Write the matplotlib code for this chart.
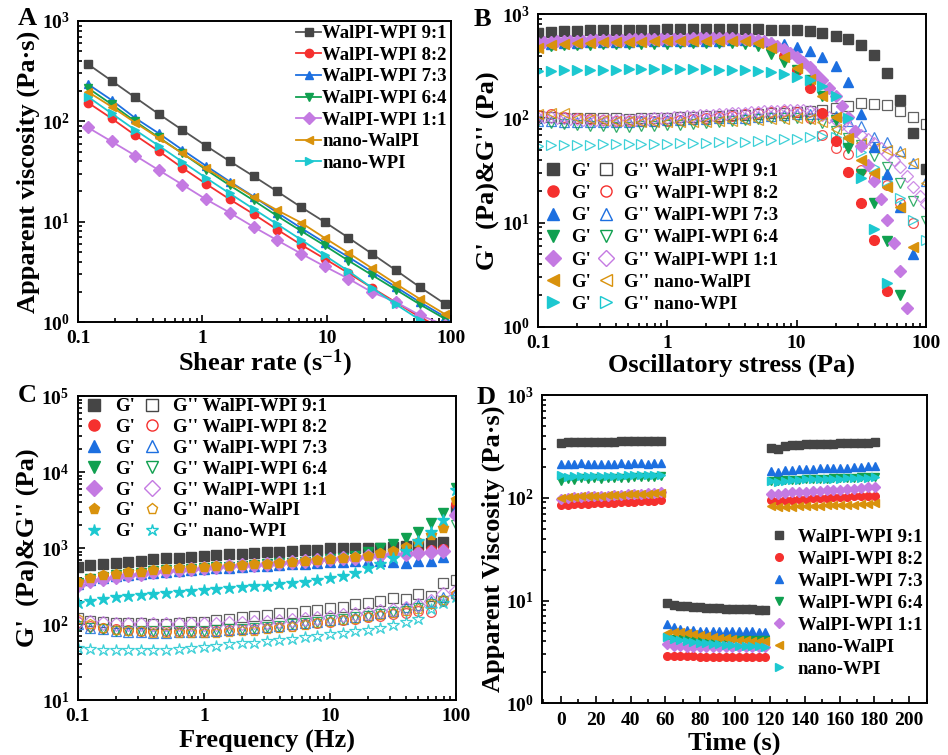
import numpy as np
import matplotlib
matplotlib.use("Agg")
import matplotlib.pyplot as plt
from matplotlib.lines import Line2D
from matplotlib.ticker import MultipleLocator, NullFormatter

plt.rcParams['font.family'] = ['Liberation Serif', 'DejaVu Serif']
plt.rcParams['font.weight'] = 'bold'
plt.rcParams['axes.labelweight'] = 'bold'
plt.rcParams['mathtext.fontset'] = 'custom'
plt.rcParams['mathtext.rm'] = 'Liberation Serif:bold'
plt.rcParams['mathtext.bf'] = 'Liberation Serif:bold'
plt.rcParams['mathtext.it'] = 'Liberation Serif:bold:italic'
plt.rcParams['mathtext.default'] = 'rm'

# ---------------- shared sample info ----------------
samples = ["WalPI-WPI 9:1", "WalPI-WPI 8:2", "WalPI-WPI 7:3", "WalPI-WPI 6:4",
           "WalPI-WPI 1:1", "nano-WalPI", "nano-WPI"]
colors = ["#454545", "#F5302E", "#1C6FE0", "#10A050", "#C47AE2", "#D9920C", "#1CC8D0"]
line_colors = ["#555555", "#F5302E", "#1C6FE0", "#10A050", "#C47AE2", "#D9920C", "#1CC8D0"]
markers_abd = ["s", "o", "^", "v", "D", "<", ">"]
markers_c = ["s", "o", "^", "v", "D", "p", "*"]

# ---------------- A: flow curves ----------------
shear_rate = [0.12, 0.186, 0.288, 0.447, 0.69, 1.07, 1.66, 2.58, 4.0, 6.2, 9.6,
              14.9, 23.0, 36.0, 56.0, 90.0]
visc_91 = [372, 254, 173, 118, 82, 57, 40, 28.4, 20, 14.0, 9.95, 6.94, 4.81, 3.28, 2.23, 1.51]
visc_82 = [154, 107, 72.8, 50.4, 34.4, 23.8, 16.7, 11.9, 8.34, 5.91, 4.28, 3.08, 2.2, 1.57, 1.12, 0.83]
visc_73 = [235, 163, 108, 75.7, 52, 36, 25.1, 17.8, 12.3, 8.67, 6.19, 4.45, 3.18, 2.23, 1.58, 1.12]
visc_64 = [215, 148, 100, 69, 48, 33, 23, 16.3, 11.4, 8.1, 5.8, 4.1, 2.95, 2.1, 1.5, 1.07]
visc_11 = [86.9, 63, 45.6, 32.6, 23.4, 16.7, 12.3, 8.87, 6.53, 4.81, 3.59, 2.71, 1.99, 1.58, 1.17, 0.93]
visc_walpi = [197, 140, 97, 68, 48, 34, 24.5, 17.6, 13, 9.8, 6.9, 4.9, 3.45, 2.4, 1.7, 1.19]
visc_wpi = [176, 120, 82, 57, 39.5, 27.3, 19.1, 13.4, 9.43, 6.63, 4.62, 3.23, 2.2, 1.5, 1.05, 0.85]
visc_all = [visc_91, visc_82, visc_73, visc_64, visc_11, visc_walpi, visc_wpi]

# ---------------- B: amplitude sweep ----------------
stress = [0.1, 0.126, 0.158, 0.2, 0.251, 0.316, 0.398, 0.501, 0.631, 0.794, 1.0, 1.26,
          1.58, 2.0, 2.51, 3.16, 3.98, 5.01, 6.31, 7.94, 10.0, 12.6, 15.8, 20.0, 25.1,
          31.6, 39.8, 50.1, 63.1, 79.4, 100.0]
stress_fine = [0.1, 0.112, 0.126, 0.141, 0.158, 0.178, 0.2, 0.224, 0.251, 0.282, 0.316,
               0.355, 0.398, 0.447, 0.501, 0.562, 0.631, 0.708, 0.794, 0.891, 1.0, 1.12,
               1.26, 1.41, 1.58, 1.78, 2.0, 2.24, 2.51, 2.82, 3.16, 3.55, 3.98, 4.47, 5.01,
               5.62, 6.31, 7.08, 7.94, 8.91, 10.0, 11.2, 12.6, 14.1, 15.8, 17.8, 20.0, 22.4,
               25.1, 28.2, 31.6, 35.5, 39.8, 44.7, 50.1, 56.2, 63.1, 70.8, 79.4, 89.1, 100.0]
nan = np.nan
amp_G1_91 = [660, 680, 690, 695, 700, 700, 705, 710, 715, 715, 720, 720, 720, 725, 725, 725,
             725, 720, 715, 710, 705, 690, 660, 620, 580, 510, 410, 275, 150, 72, 33]
amp_G2_91 = [105, 103, 102, 100, 100, 101, 100, 99, 100, 101, 102, 103, 104, 105, 106, 107,
             108, 110, 112, 114, 115, 117, 120, 125, 132, 140, 138, 136, 118, 104, 88]
amp_G1_82 = [520, 530, 535, 540, 545, 548, 550, 552, 555, 557, 558, 560, 562, 563, 565, 565,
             562, 545, 490, 400, 290, 195, 113, 61, 30.5, 15.5, 6.8, 2.2, nan, nan, nan]
amp_G2_82 = [108, 110, 104, 100, 98, 96, 95, 94, 94, 94, 95, 96, 98, 100, 103, 106, 110, 114,
             116, 117, 115, 100, 69, 52, 45.5, 32, 27, 23, 15.5, 10, nan]
amp_G1_73 = [500, 520, 530, 535, 540, 542, 545, 548, 550, 552, 555, 556, 558, 560, 560, 562,
             562, 560, 545, 520, 485, 447, 392, 318, 225, 111, 53, 29, 14, 5, nan]
amp_G2_73 = [95, 94, 93, 92, 92, 92, 93, 93, 94, 95, 96, 97, 98, 99, 100, 101, 102, 104, 106,
             108, 110, 111, 110, 105, 95, 84, 67, 60, 49, 37.5, 25]
amp_G1_64 = [470, 495, 505, 510, 512, 515, 517, 518, 520, 522, 523, 525, 525, 526, 526, 525,
             520, 500, 420, 350, 295, 234, 165, 97, 52, 29, 15.3, 6.7, 2.0, nan, nan]
amp_G2_64 = [95, 90, 88, 86, 85, 84, 83, 83, 84, 85, 86, 87, 88, 90, 92, 94, 96, 98, 100, 101,
             101, 98, 90, 76, 65, 55, 44, 34, 24, 16, 10.3]
amp_G1_11 = [530, 540, 545, 550, 552, 555, 558, 560, 562, 565, 567, 568, 570, 572, 574, 575,
             577, 578, 580, 581, 582, 584, 585, 586, 587, 588, 588, 589, 589, 588, 587, 585,
             582, 576, 567, 552, 530, 500, 465, 428, 390, 350, 310, 270, 232, 198, 165, 132,
             103, 76, 54, 36, 25, 17, 10.7, 6.4, 3.4, 1.5, nan, nan, nan]
amp_G2_11 = [102, 103, 104, 102, 100, 99, 98, 97, 97, 96, 96, 96, 96, 96, 97, 97, 98, 99, 100,
             101, 102, 103, 104, 105, 106, 107, 108, 109, 110, 111, 112, 113, 114, 115, 116,
             117, 118, 119, 120, 121, 121, 120, 118, 114, 109, 103, 96, 89, 82, 76, 70, 64,
             58, 52, 46, 40, 34, 28, 22, 18, 15]
amp_G1_walpi = [480, 510, 520, 530, 535, 540, 542, 545, 548, 550, 552, 553, 555, 556, 556,
                555, 550, 530, 470, 390, 305, 240, 165, 104, 65, 40, 30, 22, 14.2, 5.8, nan]
amp_G2_walpi = [110, 112, 112, 100, 98, 96, 95, 94, 93, 92, 92, 92, 92, 93, 94, 95, 96, 97,
                98, 99, 100, 98, 92, 80, 66, 58, 52, 50, 47, 37, 24]
amp_G1_wpi = [283, 288, 290, 292, 293, 294, 295, 296, 297, 297, 298, 298, 297, 296, 295, 293,
              290, 286, 280, 270, 252, 232, 205, 165, 100, 27, 8.6, 2.6, nan, nan, nan]
amp_G2_wpi = [54, 55, 55, 56, 56, 57, 57, 57, 57, 57, 57, 58, 58, 58, 59, 59, 60, 61, 62, 63,
              64, 66, 68, 66, 60, 48, 34, 25, 17.4, 10.5, 6.8]
amp_G1 = [amp_G1_91, amp_G1_82, amp_G1_73, amp_G1_64, amp_G1_11, amp_G1_walpi, amp_G1_wpi]
amp_G2 = [amp_G2_91, amp_G2_82, amp_G2_73, amp_G2_64, amp_G2_11, amp_G2_walpi, amp_G2_wpi]

# ---------------- C: frequency sweep ----------------
frequency = stress
frq_G1_91 = [568, 597, 615, 641, 661, 680, 708, 731, 747, 772, 785, 810, 825, 840, 860, 876,
             893, 920, 935, 955, 990, 990, 1010, 1015, 1010, 1030, 1060, 1110, 1150, 1200, 3200]
frq_G2_91 = [119, 110, 108, 104, 102, 102, 101, 101, 103, 105, 108, 112, 118, 122, 126, 131,
             138, 141, 148, 153, 161, 169, 182, 191, 200, 218, 212, 245, 232, 343, 379]
frq_G1_82 = [350, 395, 425, 445, 465, 480, 500, 515, 525, 540, 550, 565, 575, 590, 600, 615,
             630, 645, 665, 680, 700, 720, 745, 780, 820, 860, 880, 895, 950, 980, 3760]
frq_G2_82 = [105, 95, 88, 85, 83, 82, 81, 80, 80, 80, 81, 82, 83, 85, 87, 89, 92, 95, 99, 103,
             108, 112, 117, 122, 128, 135, 140, 150, 145, 200, 240]
frq_G1_73 = [340, 380, 405, 425, 445, 460, 475, 490, 500, 515, 525, 540, 550, 560, 575, 585,
             600, 610, 620, 635, 647, 660, 670, 681, 670, 660, 640, 670, 670, 754, 3300]
frq_G2_73 = [100, 90, 85, 80, 78, 78, 77, 77, 78, 78, 79, 81, 83, 85, 88, 91, 95, 99, 104, 108,
             112, 118, 125, 132, 140, 150, 170, 180, 200, 230, 260]
frq_G1_64 = [345, 390, 420, 440, 460, 475, 495, 510, 520, 535, 545, 560, 570, 585, 600, 615,
             630, 645, 665, 685, 710, 740, 780, 880, 1010, 1130, 1370, 1640, 2150, 2915, 6100]
frq_G2_64 = [95, 88, 85, 82, 81, 80, 80, 80, 80, 81, 82, 83, 85, 87, 89, 92, 95, 99, 103, 107,
             112, 117, 122, 128, 135, 142, 150, 165, 185, 200, 2000]
frq_G1_11 = [326, 370, 395, 420, 445, 460, 480, 500, 515, 530, 545, 560, 575, 590, 605, 620,
             640, 655, 675, 690, 710, 730, 750, 780, 800, 830, 830, 850, 895, 920, 2720]
frq_G2_11 = [108, 105, 103, 101, 100, 100, 100, 100, 100, 100, 100, 101, 102, 104, 106, 108,
             111, 114, 118, 121, 125, 130, 135, 140, 147, 155, 165, 180, 200, 250, 270]
frq_G1_walpi = [360, 408, 441, 455, 479, 489, 514, 530, 540, 548, 562, 573, 585, 597, 610, 623,
                640, 654, 675, 690, 710, 731, 753, 793, 851, 913, 1040, 1212, 1480, 1815, 4285]
frq_G2_walpi = [115, 100, 90, 83, 82, 80, 77, 77, 76, 76, 76, 77, 78, 80, 82, 85, 88, 92, 97,
                102, 108, 113, 118, 124, 132, 140, 150, 160, 185, 210, 250]
frq_G1_wpi = [187, 201, 213, 224, 234, 240, 248, 254, 264, 272, 280, 287, 300, 305, 316, 320,
              333, 347, 361, 379, 407, 433, 474, 540, 616, 731, 922, 1250, 1640, 2310, 5800]
frq_G2_wpi = [48, 47, 46, 46, 45, 45, 46, 46, 47, 48, 50, 52, 54, 56, 57, 59, 61, 64, 67, 70,
              73, 76, 80, 84, 88, 97, 107, 116, 160, 187, 230]
frq_G1 = [frq_G1_91, frq_G1_82, frq_G1_73, frq_G1_64, frq_G1_11, frq_G1_walpi, frq_G1_wpi]
frq_G2 = [frq_G2_91, frq_G2_82, frq_G2_73, frq_G2_64, frq_G2_11, frq_G2_walpi, frq_G2_wpi]

# ---------------- D: three-interval thixotropy ----------------
time_s = [0, 3.8, 7.7, 11.5, 15.3, 19.2, 23.0, 26.8, 30.7, 34.5, 38.3, 42.2, 46.0, 49.8, 53.7, 57.5,
          61, 64.7, 68.5, 72.2, 76, 79.7, 83.5, 87.2, 91, 94.7, 98.5, 102.2, 106, 109.7, 113.5, 117.2,
          120.5, 124.5, 128.5, 132.5, 136.5, 140.5, 144.5, 148.5, 152.5, 156.5, 160.5, 164.5,
          168.5, 172.5, 176.5, 180.5]
thx_91 = [340, 350, 352, 352, 350, 350, 350, 350, 352, 353, 355, 355, 355, 356, 357, 358,
          9.5, 9.1, 8.9, 8.8, 8.7, 8.6, 8.5, 8.45, 8.4, 8.35, 8.3, 8.25, 8.2, 8.2, 8.15, 8.1,
          303, 300, 318, 325, 328, 330, 332, 334, 335, 336, 338, 340, 341, 342, 344, 346]
thx_82 = [86, 86, 87, 87, 87, 88, 88, 89, 89, 90, 90, 91, 92, 93, 94, 95,
          2.9, 2.88, 2.87, 2.86, 2.86, 2.85, 2.85, 2.85, 2.85, 2.85, 2.85, 2.85, 2.85, 2.85, 2.85, 2.85,
          96, 94, 95, 96, 97, 98, 99, 100, 100, 101, 102, 102, 103, 104, 104, 105]
thx_73 = [212, 215, 213, 216, 214, 213, 212, 215, 214, 216, 215, 216, 217, 215, 216, 220,
          5.9, 5.5, 5.3, 5.2, 5.15, 5.1, 5.1, 5.05, 5.05, 5.0, 5.0, 5.0, 5.0, 5.0, 4.98, 4.98,
          182, 180, 186, 188, 190, 190, 192, 193, 194, 195, 196, 197, 198, 200, 202, 205]
thx_64 = [145, 152, 150, 155, 152, 155, 153, 156, 155, 157, 156, 158, 158, 159, 160, 162,
          4.35, 4.25, 4.2, 4.2, 4.15, 4.15, 4.15, 4.1, 4.1, 4.1, 4.1, 4.1, 4.1, 4.1, 4.1, 4.1,
          146, 145, 148, 150, 150, 152, 152, 153, 154, 155, 155, 156, 157, 158, 159, 160]
thx_11 = [98, 100, 101, 102, 103, 104, 104, 105, 106, 107, 108, 109, 110, 111, 112, 115,
          3.8, 3.65, 3.6, 3.55, 3.55, 3.55, 3.55, 3.55, 3.55, 3.56, 3.56, 3.56, 3.56, 3.56, 3.56, 3.56,
          108, 110, 112, 113, 114, 115, 116, 117, 118, 119, 120, 121, 122, 124, 126, 128]
thx_walpi = [100, 101, 102, 103, 104, 104, 105, 106, 106, 107, 108, 109, 110, 110, 111, 112,
             4.85, 4.9, 4.95, 4.8, 4.7, 4.6, 4.5, 4.4, 4.35, 4.3, 4.2, 4.15, 4.1, 4.05, 4.0, 4.0,
             83, 82, 82, 82, 83, 83, 84, 84, 85, 85, 86, 86, 86, 87, 87, 88]
thx_wpi = [165, 160, 163, 162, 163, 162, 164, 163, 164, 164, 165, 165, 166, 166, 167, 168,
           4.4, 4.2, 4.1, 4.0, 3.95, 3.9, 3.85, 3.8, 3.75, 3.7, 3.7, 3.65, 3.6, 3.6, 3.58, 3.56,
           146, 143, 147, 149, 150, 151, 151, 152, 153, 154, 154, 155, 156, 156, 157, 158]
thx_all = [thx_91, thx_82, thx_73, thx_64, thx_11, thx_walpi, thx_wpi]

TICK_FS = 14
LABEL_FS = 19
LEG_FS = 13.5


def style_axes(ax):
    for sp in ax.spines.values():
        sp.set_linewidth(1.4)
    ax.tick_params(which='both', direction='in', top=False, right=False,
                   labelsize=TICK_FS, width=1.2, pad=6)
    ax.tick_params(which='major', length=5)
    ax.tick_params(which='minor', length=3)


def log_decade_xticks(ax):
    ax.set_xscale('log')
    ax.set_xlim(0.1, 100)
    ax.set_xticks([0.1, 1, 10, 100], labels=['0.1', '1', '10', '100'])
    ax.xaxis.set_minor_formatter(NullFormatter())


fig = plt.figure(figsize=(9.48, 7.55), dpi=100)
axA = fig.add_axes([0.0823, 0.5735, 0.3935, 0.3987])
axB = fig.add_axes([0.5675, 0.5673, 0.4093, 0.4137])
axC = fig.add_axes([0.0820, 0.0728, 0.3990, 0.4026])
axD = fig.add_axes([0.5720, 0.0685, 0.4055, 0.4083])

# ---- A ----
for vals, name, col, lcol, mk in zip(visc_all, samples, colors, line_colors, markers_abd):
    axA.plot(shear_rate, vals, color=lcol, marker=mk, ms=6, mfc=col, mec=col, lw=1.3,
             label=name)
log_decade_xticks(axA)
axA.set_yscale('log')
axA.set_ylim(1, 1000)
axA.set_xlabel('Shear rate (s$^{-1}$)', fontsize=LABEL_FS, labelpad=0)
axA.set_ylabel('Apparent viscosity (Pa·s)', fontsize=LABEL_FS, labelpad=1)
style_axes(axA)
axA.legend(loc='upper right', bbox_to_anchor=(1.0, 1.0), frameon=False, fontsize=LEG_FS,
           handlelength=1.35, handletextpad=0.05, labelspacing=0.24, borderaxespad=0.0,
           borderpad=0.22)

# ---- B ----
for i in range(7):
    xs = stress_fine if len(amp_G1[i]) == len(stress_fine) else stress
    ms = 6 if i == 4 else 7
    axB.plot(xs, amp_G2[i], ls='none', marker=markers_abd[i], ms=ms, mfc='none',
             mec=colors[i], mew=0.9, alpha=0.85)
for i in range(7):
    xs = stress_fine if len(amp_G1[i]) == len(stress_fine) else stress
    ms = 6 if i == 4 else 7
    axB.plot(xs, amp_G1[i], ls='none', marker=markers_abd[i], ms=ms, color=colors[i])
log_decade_xticks(axB)
axB.set_yscale('log')
axB.set_ylim(1, 1000)
axB.set_xlabel('Oscillatory stress (Pa)', fontsize=LABEL_FS, labelpad=1)
axB.set_ylabel("G'  (Pa)&G'' (Pa)", fontsize=LABEL_FS, labelpad=1)
style_axes(axB)
hB = [Line2D([], [], ls='none', marker=m, ms=8, color=c) for m, c in zip(markers_abd, colors)]
hB += [Line2D([], [], ls='none', marker=m, ms=8, mfc='none', mec=c, mew=1.0)
       for m, c in zip(markers_abd, colors)]
lB = ["G'"] * 7 + ["G'' " + s for s in samples]
axB.legend(hB, lB, ncol=2, loc='upper left', bbox_to_anchor=(0.01, 0.531), frameon=False,
           fontsize=LEG_FS, handlelength=1.0, handletextpad=0.45, columnspacing=0.3,
           labelspacing=0.27, borderpad=0.1, borderaxespad=0.0)

# ---- C ----
for i in range(7):
    ms = 9 if markers_c[i] == '*' else 7
    axC.plot(frequency, frq_G2[i], ls='none', marker=markers_c[i], ms=ms, mfc='none',
             mec=colors[i], mew=0.9, alpha=0.85)
for i in range(7):
    ms = 9 if markers_c[i] == '*' else 7
    axC.plot(frequency, frq_G1[i], ls='none', marker=markers_c[i], ms=ms, color=colors[i])
log_decade_xticks(axC)
axC.set_yscale('log')
axC.set_ylim(10, 1e5)
axC.set_xlabel('Frequency (Hz)', fontsize=LABEL_FS, labelpad=3)
axC.set_ylabel("G'  (Pa)&G'' (Pa)", fontsize=LABEL_FS, labelpad=1)
style_axes(axC)
hC = [Line2D([], [], ls='none', marker=m, ms=9 if m == '*' else 8, color=c)
      for m, c in zip(markers_c, colors)]
hC += [Line2D([], [], ls='none', marker=m, ms=9 if m == '*' else 8, mfc='none', mec=c, mew=1.0)
       for m, c in zip(markers_c, colors)]
lC = ["G'"] * 7 + ["G'' " + s for s in samples]
axC.legend(hC, lC, ncol=2, loc='upper left', bbox_to_anchor=(0.013, 1.0), frameon=False,
           fontsize=LEG_FS, handlelength=1.0, handletextpad=0.62, columnspacing=0.4,
           labelspacing=0.2, borderpad=0.1, borderaxespad=0.0)

# ---- D ----
for vals, name, col, mk in zip(thx_all, samples, colors, markers_abd):
    axD.plot(time_s, vals, ls='none', marker=mk, ms=5.5, color=col, label=name)
axD.set_yscale('log')
axD.set_ylim(1, 1000)
axD.set_xlim(-10.7, 210)
axD.xaxis.set_major_locator(MultipleLocator(20))
axD.xaxis.set_minor_locator(MultipleLocator(10))
axD.set_xlabel('Time (s)', fontsize=LABEL_FS, labelpad=2)
axD.set_ylabel('Apparent Viscosity (Pa·s)', fontsize=LABEL_FS, labelpad=1)
style_axes(axD)
axD.legend(loc='upper left', bbox_to_anchor=(0.586, 0.573), frameon=False, fontsize=LEG_FS,
           handlelength=1.0, handletextpad=0.51, labelspacing=0.26, borderaxespad=0.0,
           borderpad=0.1)

# panel letters
for x, y, t in [(0.019, 0.975, 'A'), (0.500, 0.974, 'B'), (0.019, 0.476, 'C'), (0.503, 0.474, 'D')]:
    fig.text(x, y, t, fontsize=19, fontweight='bold', va='center', ha='left')

fig.savefig('out.png', dpi=100)
